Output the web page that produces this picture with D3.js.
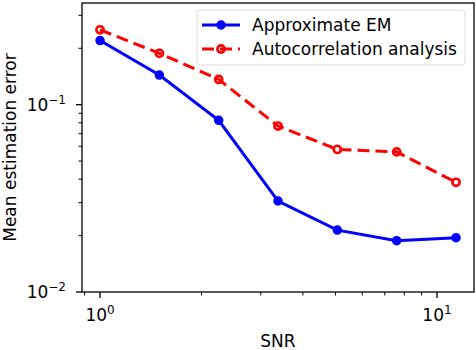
<!DOCTYPE html>
<html>
<head>
<meta charset="utf-8">
<script src="https://cdn.jsdelivr.net/npm/d3@7"></script>
<style>
  body { margin: 0; background: #fff; }
  text { font-family: "DejaVu Sans", sans-serif; }
</style>
</head>
<body>
<div id="chart"></div>
<script>
const snr = [1, 1.5, 2.25, 3.375, 5.0625, 7.59375, 11.390625];
const emError = [0.22, 0.144, 0.0825, 0.0306, 0.0214, 0.0188, 0.0195];
const acError = [0.251, 0.188, 0.1364, 0.0769, 0.0577, 0.056, 0.0385];
const seriesNames = ['Approximate EM', 'Autocorrelation analysis'];
const xMajor = [1, 10];
const yMajor = [0.01, 0.1];

const width = 476, height = 350;
const margin = {left: 82, right: 2, top: 3, bottom: 58};
const fs = 17;

const svg = d3.select('#chart').append('svg')
    .attr('width', width).attr('height', height);

const x = d3.scaleLog().domain([0.884, 12.88]).range([margin.left, width - margin.right]);
const y = d3.scaleLog().domain([0.01, 0.349]).range([height - margin.bottom, margin.top]);

// minor ticks
const xMinor = [0.9, 2, 3, 4, 5, 6, 7, 8, 9];
const yMinor = [0.02, 0.03, 0.04, 0.05, 0.06, 0.07, 0.08, 0.09, 0.2, 0.3];

const gx = svg.append('g').attr('transform', 'translate(0,' + (height - margin.bottom) + ')');
gx.selectAll('.minor').data(xMinor).join('line')
    .attr('x1', d => x(d)).attr('x2', d => x(d)).attr('y1', 0).attr('y2', 3.5)
    .attr('stroke', '#000').attr('stroke-width', 1);
gx.selectAll('.major').data(xMajor).join('line')
    .attr('x1', d => x(d)).attr('x2', d => x(d)).attr('y1', 0).attr('y2', 6)
    .attr('stroke', '#000').attr('stroke-width', 1.3);
const xl = gx.selectAll('.lab').data(xMajor).join('text')
    .attr('x', d => x(d)).attr('y', 29).attr('text-anchor', 'middle')
    .attr('font-size', fs);
xl.append('tspan').text('10');
xl.append('tspan').attr('dy', -7).attr('font-size', 12).text(d => Math.round(Math.log10(d)));

const gy = svg.append('g').attr('transform', 'translate(' + margin.left + ',0)');
gy.selectAll('.minor').data(yMinor).join('line')
    .attr('y1', d => y(d)).attr('y2', d => y(d)).attr('x1', 0).attr('x2', -3.5)
    .attr('stroke', '#000').attr('stroke-width', 1);
gy.selectAll('.major').data(yMajor).join('line')
    .attr('y1', d => y(d)).attr('y2', d => y(d)).attr('x1', 0).attr('x2', -6)
    .attr('stroke', '#000').attr('stroke-width', 1.3);
const yl = gy.selectAll('.lab').data(yMajor).join('text')
    .attr('x', -16).attr('y', d => y(d) + 6).attr('text-anchor', 'end')
    .attr('font-size', fs);
yl.append('tspan').text('10');
yl.append('tspan').attr('dy', -7).attr('font-size', 12).text(d => '\u2212' + Math.round(-Math.log10(d)));

// axis labels
svg.append('text').attr('x', (margin.left + width - margin.right) / 2).attr('y', 347)
    .attr('text-anchor', 'middle').attr('font-size', fs).text('SNR');
svg.append('text')
    .attr('transform', 'translate(16,' + ((margin.top + height - margin.bottom) / 2) + ') rotate(-90)')
    .attr('text-anchor', 'middle').attr('font-size', fs).text('Mean estimation error');

// lines
const line = d3.line().x(d => x(d[0])).y(d => y(d[1]));
const emData = snr.map((s, i) => [s, emError[i]]);
const acData = snr.map((s, i) => [s, acError[i]]);

svg.append('path').datum(emData).attr('d', line)
    .attr('fill', 'none').attr('stroke', '#0000ff').attr('stroke-width', 3);
svg.selectAll('.em').data(emData).join('circle')
    .attr('cx', d => x(d[0])).attr('cy', d => y(d[1])).attr('r', 4)
    .attr('fill', '#0000ff').attr('stroke', '#0000ff').attr('stroke-width', 1.5);

svg.append('path').datum(acData).attr('d', line)
    .attr('fill', 'none').attr('stroke', '#ff0000').attr('stroke-width', 3)
    .attr('stroke-dasharray', '12,6');
svg.selectAll('.ac').data(acData).join('circle')
    .attr('cx', d => x(d[0])).attr('cy', d => y(d[1])).attr('r', 3.6)
    .attr('fill', 'none').attr('stroke', '#ff0000').attr('stroke-width', 2.6);

// frame
svg.append('rect').attr('x', margin.left).attr('y', margin.top)
    .attr('width', width - margin.right - margin.left).attr('height', height - margin.bottom - margin.top)
    .attr('fill', 'none').attr('stroke', '#000').attr('stroke-width', 1.3);

// legend
const lg = svg.append('g');
lg.append('rect').attr('x', 197).attr('y', 10).attr('width', 268).attr('height', 55).attr('rx', 3)
    .attr('fill', '#fff').attr('fill-opacity', 0.8).attr('stroke', '#dcdcdc').attr('stroke-width', 1);
const rows = [
  {name: seriesNames[0], color: '#0000ff', dash: null, fill: '#0000ff'},
  {name: seriesNames[1], color: '#ff0000', dash: '12,6', fill: 'none'}
];
rows.forEach((r, i) => {
  const yy = 25 + i * 24;
  lg.append('line').attr('x1', 202).attr('x2', 240).attr('y1', yy).attr('y2', yy)
      .attr('stroke', r.color).attr('stroke-width', 3).attr('stroke-dasharray', r.dash);
  lg.append('circle').attr('cx', 221).attr('cy', yy).attr('r', r.fill === 'none' ? 3.6 : 4)
      .attr('fill', r.fill).attr('stroke', r.color).attr('stroke-width', r.fill === 'none' ? 2.6 : 1.5);
  lg.append('text').attr('x', 252).attr('y', yy + 6).attr('font-size', fs).text(r.name);
});
</script>
</body>
</html>
